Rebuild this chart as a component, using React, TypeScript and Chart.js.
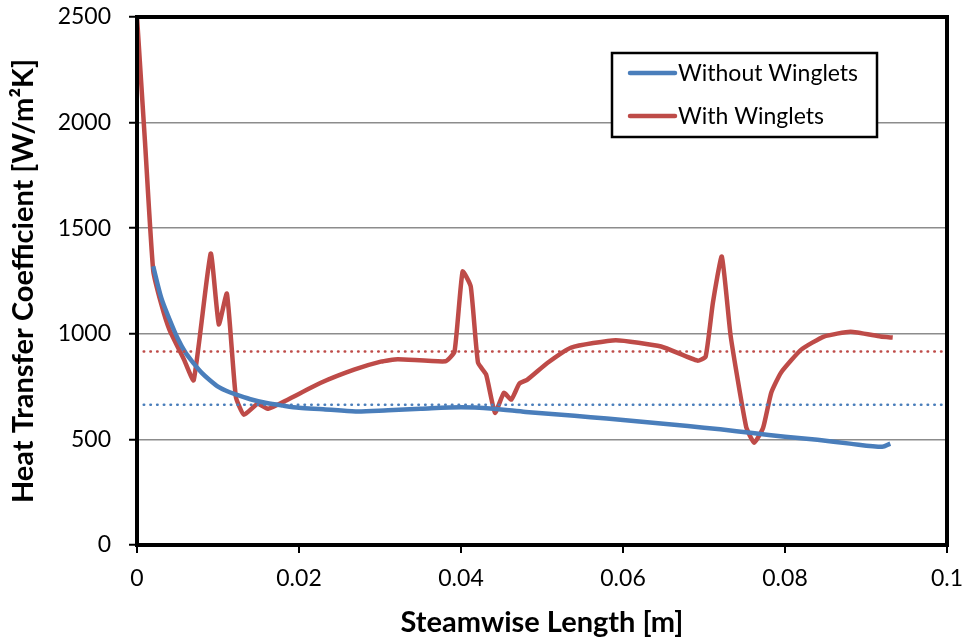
import React, { useEffect, useRef } from "react";
import { Chart, registerables } from "chart.js";

Chart.register(...registerables);

// ---- data ----
const withoutX = [0.002, 0.003, 0.004, 0.005, 0.006, 0.007, 0.008, 0.009, 0.010, 0.011, 0.012, 0.014, 0.016, 0.018, 0.020, 0.023, 0.027, 0.031, 0.035, 0.040, 0.044, 0.048, 0.052, 0.056, 0.060, 0.064, 0.068, 0.072, 0.076, 0.080, 0.084, 0.088, 0.092, 0.093];
const withoutY = [1320, 1170, 1070, 980, 910, 860, 815, 780, 750, 730, 715, 690, 672, 660, 650, 643, 632, 638, 645, 652, 645, 630, 618, 605, 592, 578, 563, 548, 530, 513, 498, 480, 465, 480];

const withX = [0, 0.001, 0.002, 0.003, 0.004, 0.0058, 0.007, 0.0091, 0.0101, 0.0111, 0.0122, 0.0132, 0.0149, 0.0162, 0.0186, 0.0227, 0.0268, 0.0301, 0.0322, 0.0381, 0.0392, 0.0402, 0.0412, 0.0421, 0.0431, 0.0442, 0.0453, 0.0462, 0.0472, 0.0482, 0.0507, 0.0536, 0.0591, 0.0647, 0.0692, 0.0702, 0.0711, 0.0722, 0.0733, 0.0752, 0.0762, 0.0773, 0.0783, 0.0795, 0.0820, 0.0848, 0.0881, 0.0918, 0.0933];
const withY = [2500, 1900, 1300, 1140, 1020, 878, 780, 1380, 1045, 1190, 702, 617, 669, 645, 688, 768, 830, 868, 880, 870, 916, 1295, 1224, 863, 807, 626, 721, 688, 764, 783, 863, 935, 970, 940, 873, 892, 1148, 1366, 987, 560, 484, 555, 721, 816, 925, 987, 1010, 987, 982];

const avgWithout = 664;
const avgWith = 916;
const avgX = [0, 0.1];

const seriesLabels = ["Without Winglets", "With Winglets"];
const xTitle = "Steamwise Length [m]";
const yTitle = "Heat Transfer Coefficient [W/m²K]";

const BLUE = "#4A7EBB";
const RED = "#BE4B48";
const FONT = "Lato, 'Open Sans', sans-serif";

const framePlugin = {
  id: "frame",
  afterDatasetsDraw(chart: any) {
    const { ctx, chartArea: a } = chart;
    ctx.save();
    ctx.strokeStyle = "#000";
    ctx.lineWidth = 4;
    ctx.strokeRect(a.left, a.top, a.right - a.left, a.bottom - a.top);
    ctx.restore();
  },
  afterDraw(chart: any) {
    const { ctx, chartArea: a } = chart;
    const x0 = a.right - 335;
    const y0 = a.top + 36;
    const w = 265;
    const h = 84;
    ctx.save();
    ctx.fillStyle = "#fff";
    ctx.fillRect(x0, y0, w, h);
    ctx.strokeStyle = "#000";
    ctx.lineWidth = 2.5;
    ctx.strokeRect(x0, y0, w, h);
    const entries = [
      { label: seriesLabels[0], color: BLUE, y: y0 + 20 },
      { label: seriesLabels[1], color: RED, y: y0 + 63 },
    ];
    ctx.font = `23px ${FONT}`;
    ctx.textBaseline = "middle";
    ctx.fillStyle = "#000";
    for (const e of entries) {
      ctx.strokeStyle = e.color;
      ctx.lineWidth = 4.5;
      ctx.lineCap = "round";
      ctx.beginPath();
      ctx.moveTo(x0 + 18, e.y);
      ctx.lineTo(x0 + 63, e.y);
      ctx.stroke();
      ctx.fillText(e.label, x0 + 66, e.y + 1);
    }
    ctx.restore();
  },
};

export default function App() {
  const ref = useRef<HTMLCanvasElement>(null);
  useEffect(() => {
    const toPts = (xs: number[], ys: number[]) => xs.map((x, i) => ({ x, y: ys[i] }));
    const chart = new Chart(ref.current!, {
      type: "line",
      data: {
        datasets: [
          {
            label: "avgWithout",
            data: avgX.map((x) => ({ x, y: avgWithout })),
            borderColor: BLUE,
            borderWidth: 2.5,
            borderDash: [0.5, 6.2],
            borderCapStyle: "round",
            pointRadius: 0,
          },
          {
            label: "avgWith",
            data: avgX.map((x) => ({ x, y: avgWith })),
            borderColor: RED,
            borderWidth: 2.5,
            borderDash: [0.5, 6.2],
            borderCapStyle: "round",
            pointRadius: 0,
          },
          {
            label: seriesLabels[0],
            data: toPts(withoutX, withoutY),
            borderColor: BLUE,
            borderWidth: 4.5,
            pointRadius: 0,
            tension: 0.3,
          },
          {
            label: seriesLabels[1],
            data: toPts(withX, withY),
            borderColor: RED,
            borderWidth: 4.5,
            pointRadius: 0,
            tension: 0.15,
          },
        ],
      } as any,
      options: {
        animation: false,
        responsive: false,
        layout: { padding: { top: 17, right: 20, left: 0, bottom: 0 } },
        plugins: { legend: { display: false }, tooltip: { enabled: false } },
        scales: {
          x: {
            type: "linear",
            min: 0,
            max: 0.1,
            afterFit: (s: any) => {
              s.height = 96;
              s.paddingLeft = 0;
              s.paddingRight = 0;
            },
            ticks: {
              stepSize: 0.02,
              color: "#000",
              font: { family: FONT, size: 23 },
              padding: 12,
              maxRotation: 0,
              callback: (v: any) => String(Math.round(Number(v) * 100) / 100),
            },
            grid: { drawOnChartArea: false, drawTicks: true, tickLength: 8, tickColor: "#000", lineWidth: 2 },
            border: { display: false },
            title: {
              display: true,
              text: xTitle,
              color: "#000",
              font: { family: FONT, size: 29, weight: "bold" },
              padding: { top: 0, bottom: 1 },
            },
          },
          y: {
            min: 0,
            max: 2500,
            afterFit: (s: any) => {
              s.width = 137;
              s.paddingTop = 0;
              s.paddingBottom = 0;
            },
            ticks: {
              stepSize: 500,
              color: "#000",
              font: { family: FONT, size: 23 },
              padding: 18,
              callback: (v: any) => String(v),
            },
            grid: { color: "#8C8C8C", lineWidth: 1.5, tickLength: 8, tickColor: "#000", tickWidth: 2 },
            border: { display: false },
            title: {
              display: true,
              text: yTitle,
              color: "#000",
              font: { family: FONT, size: 29, weight: "bold" },
              padding: { top: 6, bottom: 0 },
            },
          },
        },
      } as any,
      plugins: [framePlugin],
    });
    return () => chart.destroy();
  }, []);
  return (
    <div style={{ position: "fixed", left: 0, top: 0, width: 967, height: 641, background: "#fff" }}>
      <canvas ref={ref} width={967} height={641} />
    </div>
  );
}
